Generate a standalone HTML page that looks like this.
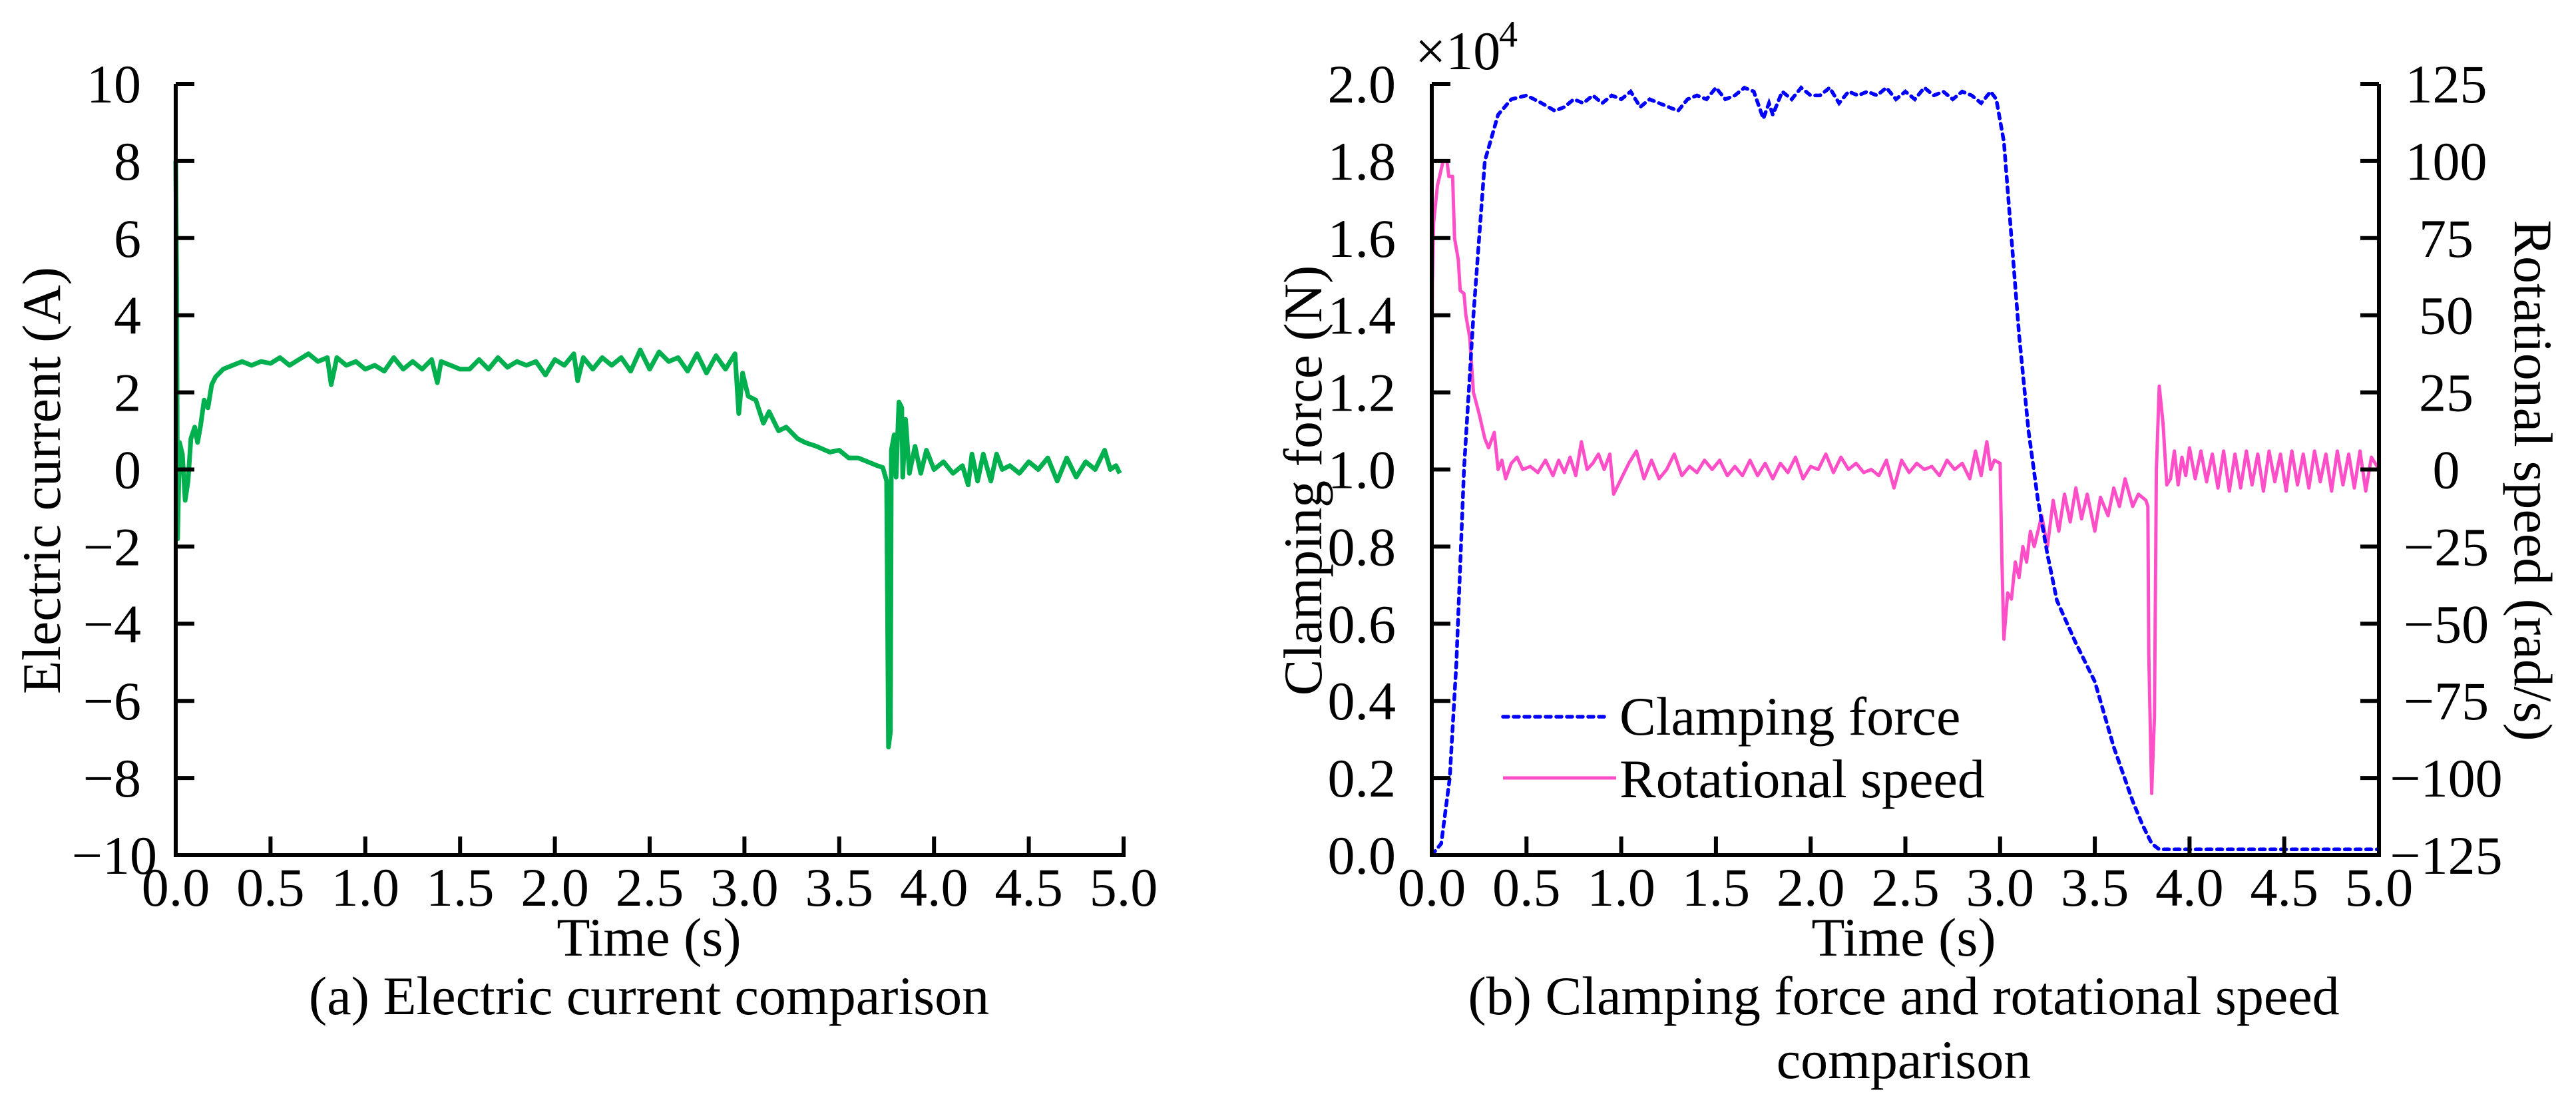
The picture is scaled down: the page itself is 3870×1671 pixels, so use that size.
<!DOCTYPE html>
<html><head><meta charset="utf-8"><style>
html,body{margin:0;padding:0;background:#fff;}
svg{display:block;font-family:"Liberation Serif",serif;}
</style></head><body>
<svg id="fig" width="3870" height="1671" viewBox="0 0 3870 1671" xmlns="http://www.w3.org/2000/svg">
<rect width="3870" height="1671" fill="#fff"/>
<g id="chartA"></g>
<g id="chartB"></g>
</svg>
<script>
const xTicks = [0,0.5,1,1.5,2,2.5,3,3.5,4,4.5,5];
const xTickLabels = ["0.0","0.5","1.0","1.5","2.0","2.5","3.0","3.5","4.0","4.5","5.0"];
const curTicks = [-10,-8,-6,-4,-2,0,2,4,6,8,10];
const curTickLabels = ["\u221210","\u22128","\u22126","\u22124","\u22122","0","2","4","6","8","10"];
const forceTicks = [0,0.2,0.4,0.6,0.8,1.0,1.2,1.4,1.6,1.8,2.0];
const forceTickLabels = ["0.0","0.2","0.4","0.6","0.8","1.0","1.2","1.4","1.6","1.8","2.0"];
const speedTicks = [-125,-100,-75,-50,-25,0,25,50,75,100,125];
const speedTickLabels = ["\u2212125","\u2212100","\u221275","\u221250","\u221225","0","25","50","75","100","125"];

const curT = [0,0.005,0.01,0.02,0.035,0.05,0.065,0.08,0.1,0.115,0.13,0.15,0.17,0.19,0.21,0.25,
0.30,0.35,0.40,0.45,0.50,0.55,0.60,0.65,0.70,0.75,0.80,0.82,0.85,0.90,0.95,1.00,1.05,1.10,1.15,1.20,1.25,1.30,1.35,1.38,1.40,1.45,1.50,1.55,1.60,1.65,1.70,1.75,1.80,1.85,1.90,1.95,2.00,2.05,2.10,2.12,2.15,2.20,2.25,2.30,2.35,2.40,2.45,2.50,2.55,2.60,2.65,2.70,2.75,2.80,2.85,2.90,2.95,
2.97,2.99,3.02,3.06,3.10,3.13,3.18,3.22,3.28,3.32,3.38,3.45,3.5,3.55,3.6,3.65,3.7,3.73,3.75,3.76,3.77,3.775,3.79,3.8,3.815,3.83,3.835,3.85,3.87,3.9,3.93,3.96,4.0,4.05,4.1,4.15,4.18,4.2,4.23,4.26,4.3,4.33,4.36,4.4,4.45,4.5,4.55,4.6,4.65,4.7,4.75,4.8,4.85,4.9,4.93,4.96,4.98];
const curV = [8.0,5,-1.8,0.7,0.4,-0.8,-0.3,0.8,1.1,0.7,1.1,1.8,1.6,2.2,2.4,2.6,
2.7,2.8,2.7,2.8,2.75,2.9,2.7,2.85,3.0,2.8,2.9,2.2,2.9,2.7,2.8,2.6,2.7,2.55,2.9,2.6,2.8,2.6,2.85,2.25,2.8,2.7,2.6,2.6,2.85,2.6,2.9,2.65,2.8,2.7,2.8,2.45,2.85,2.7,3.0,2.3,2.9,2.6,2.9,2.7,2.9,2.55,3.1,2.6,3.05,2.8,2.9,2.55,3.0,2.5,2.95,2.6,3.0,
1.45,2.5,1.9,1.8,1.2,1.5,1.0,1.1,0.8,0.7,0.6,0.45,0.5,0.3,0.3,0.2,0.1,0.05,-0.3,-7.2,-6.8,0.5,0.9,-0.2,1.75,1.6,-0.2,1.3,-0.1,0.6,-0.1,0.5,0.0,0.2,-0.1,0.1,-0.4,0.4,-0.3,0.4,-0.3,0.4,0.0,0.1,-0.1,0.2,0.0,0.3,-0.3,0.3,-0.2,0.2,0.0,0.5,0.0,0.1,-0.1];

const forceT = [0,0.05,0.095,0.13,0.17,0.22,0.28,0.35,0.42,0.5,0.58,0.65,0.7,0.75,0.8,0.85,0.9,0.95,1.0,1.05,1.1,1.15,1.2,1.25,1.3,1.35,1.4,1.45,1.5,1.55,1.6,1.65,1.7,1.75,1.78,1.8,1.85,1.9,1.95,2.0,2.05,2.1,2.15,2.2,2.25,2.3,2.35,2.4,2.45,2.5,2.55,2.6,2.65,2.7,2.75,2.8,2.85,2.9,2.95,2.98,3.02,3.06,3.1,3.15,3.2,3.25,3.3,3.4,3.5,3.6,3.7,3.75,3.8,3.84,5.0];
const forceV = [0,0.03,0.2,0.5,1.0,1.4,1.8,1.92,1.96,1.97,1.95,1.93,1.94,1.96,1.95,1.97,1.95,1.97,1.96,1.98,1.94,1.96,1.95,1.94,1.93,1.96,1.97,1.96,1.99,1.96,1.97,1.99,1.98,1.91,1.95,1.92,1.98,1.96,1.99,1.97,1.97,1.99,1.95,1.98,1.97,1.98,1.97,1.99,1.96,1.98,1.96,1.99,1.97,1.98,1.96,1.98,1.97,1.95,1.98,1.96,1.85,1.6,1.35,1.1,0.92,0.78,0.66,0.55,0.45,0.28,0.14,0.08,0.03,0.015,0.015];

const speedT = [0,0.003,0.01,0.03,0.06,0.08,0.09,0.11,0.12,0.14,0.15,0.17,0.18,0.2,0.22,0.25,0.28,0.3,0.33,0.35,0.37,0.39,0.42,0.45,0.48,0.52,0.56,0.6,0.64,0.67,0.7,0.73,0.76,0.79,0.82,0.85,0.88,0.91,0.94,0.96,1.0,1.04,1.08,1.12,1.16,1.2,1.24,1.28,1.32,1.36,1.4,1.44,1.48,1.52,1.56,1.6,1.64,1.68,1.72,1.76,1.8,1.84,1.88,1.92,1.96,2.0,2.04,2.08,2.12,2.16,2.2,2.24,2.28,2.32,2.36,2.4,2.44,2.48,2.52,2.56,2.6,2.64,2.68,2.72,2.76,2.8,2.84,2.87,2.9,2.93,2.95,2.97,3.0,3.01,3.02,3.04,3.06,3.08,3.1,3.12,3.14,3.16,3.18,3.22,3.25,3.28,3.31,3.34,3.37,3.4,3.43,3.46,3.5,3.53,3.57,3.6,3.63,3.66,3.7,3.73,3.77,3.78,3.785,3.8,3.815,3.825,3.84,3.86,3.88,3.9,3.92,3.94,3.96,3.98,4.0,4.03,4.06,4.09,4.12,4.15,4.18,4.21,4.24,4.27,4.3,4.33,4.36,4.39,4.42,4.45,4.48,4.51,4.54,4.57,4.6,4.63,4.66,4.69,4.72,4.75,4.78,4.81,4.84,4.87,4.9,4.93,4.96,5.0];
const speedV = [0,60,80,92,100,100,95,95,75,68,58,57,50,43,25,18,10,7,12,0,3,-3,2,4,0,1,-1,3,-2,3,-1,4,-2,9,0,2,5,0,5,-8,-3,2,6,-3,3,-3,0,5,-2,1,-1,3,0,3,-2,1,-2,3,-2,2,-3,2,-1,4,-3,1,0,5,-1,4,0,2,-1,0,-2,3,-6,3,-1,2,0,1,-2,3,0,2,-3,6,-2,9,0,3,2,-30,-55,-40,-42,-30,-35,-25,-30,-20,-25,-15,-25,-10,-20,-8,-17,-6,-16,-8,-20,-9,-15,-6,-12,-3,-12,-8,-10,-12,-60,-105,-80,0,27,15,-5,-3,6,-5,4,-2,7,-3,6,-4,5,-6,6,-7,5,-6,6,-5,5,-7,6,-4,5,-7,6,-5,5,-6,6,-4,5,-7,6,-5,5,-6,6,-7,4,0];

const NS = "http://www.w3.org/2000/svg";
function mk(parent, tag, attrs, text){
  const el = document.createElementNS(NS, tag);
  for (const k in attrs) el.setAttribute(k, attrs[k]);
  if (text !== undefined) el.textContent = text;
  parent.appendChild(el);
  return el;
}
const TOP = 126, BOT = 1285, FS = 82;

// ---------- Chart A ----------
const A = document.getElementById('chartA');
const ax0 = 264, ax1 = 1688;
const axA = t => ax0 + (t / 5) * (ax1 - ax0);
const ayA = v => BOT - (v + 10) / 20 * (BOT - TOP);

let p = mk(A, 'path', {d: curT.map((t,i)=>(i?'L':'M')+axA(t).toFixed(1)+','+ayA(curV[i]).toFixed(1)).join(''), fill:'none', stroke:'#00b04f', 'stroke-width':7, 'stroke-linejoin':'round'});



let ln = mk(A, 'path', {d:`M${ax0},${TOP} L${ax0},${BOT} L${ax1},${BOT} L${ax1},${BOT-28}`, fill:'none', stroke:'#000', 'stroke-width':6});


curTicks.forEach((v,i)=>{
  const y = ayA(v);
  const tk = mk(A, 'line', {x1:ax0, x2:ax0+28, y1:y, y2:y, stroke:'#000', 'stroke-width':6});
  
  
  const lb = mk(A, 'text', {x: v===-10?236:212, y:y+28, 'text-anchor':'end', 'font-size':FS}, curTickLabels[i]);
  
  
});
xTicks.forEach((t,i)=>{
  const x = axA(t);
  if (i>0 && i<10) {
    const tk = mk(A, 'line', {x1:x, x2:x, y1:BOT, y2:BOT-28, stroke:'#000', 'stroke-width':6});
    
    
  }
  const lb = mk(A, 'text', {x:x, y:1361, 'text-anchor':'middle', 'font-size':FS}, xTickLabels[i]);
  
  
});
let t1 = mk(A, 'text', {x:975, y:1436, 'text-anchor':'middle', 'font-size':FS}, 'Time (s)');


let t2 = mk(A, 'text', {x:0, y:0, 'text-anchor':'middle', 'font-size':FS, transform:'translate(90,722) rotate(-90)'}, 'Electric current (A)');


let t3 = mk(A, 'text', {x:975, y:1524, 'text-anchor':'middle', 'font-size':FS}, '(a) Electric current comparison');



// ---------- Chart B ----------
const B = document.getElementById('chartB');
const bx0 = 2151, bx1 = 3574;
const axB = t => bx0 + (t / 5) * (bx1 - bx0);
const ayF = v => BOT - v / 2 * (BOT - TOP);
const ayS = v => BOT - (v + 125) / 250 * (BOT - TOP);

let ps = mk(B, 'path', {d: speedT.map((t,i)=>(i?'L':'M')+axB(t).toFixed(1)+','+ayS(speedV[i]).toFixed(1)).join(''), fill:'none', stroke:'#ff4fc8', 'stroke-width':5, 'stroke-linejoin':'round'});


let pf = mk(B, 'path', {d: forceT.map((t,i)=>(i?'L':'M')+axB(t).toFixed(1)+','+ayF(forceV[i]).toFixed(1)).join(''), fill:'none', stroke:'#0000ff', 'stroke-width':5.5, 'stroke-dasharray':'8 8', 'stroke-linecap':'round'});



let lnb = mk(B, 'path', {d:`M${bx0},${TOP} L${bx0},${BOT} L${bx1},${BOT} L${bx1},${TOP}`, fill:'none', stroke:'#000', 'stroke-width':6});


forceTicks.forEach((v,i)=>{
  const y = ayF(v);
  const tk = mk(B, 'line', {x1:bx0, x2:bx0+28, y1:y, y2:y, stroke:'#000', 'stroke-width':6});
  
  
  const lb = mk(B, 'text', {x:2097, y:y+28, 'text-anchor':'end', 'font-size':FS}, forceTickLabels[i]);
  
  
});
speedTicks.forEach((v,i)=>{
  const y = ayS(v);
  const tk = mk(B, 'line', {x1:bx1, x2:bx1-28, y1:y, y2:y, stroke:'#000', 'stroke-width':6});
  
  
  const lb = mk(B, 'text', {x:3675, y:y+28, 'text-anchor':'middle', 'font-size':FS}, speedTickLabels[i]);
  
  
});
xTicks.forEach((t,i)=>{
  const x = axB(t);
  if (i>0 && i<10) {
    const tk = mk(B, 'line', {x1:x, x2:x, y1:BOT, y2:BOT-28, stroke:'#000', 'stroke-width':6});
    
    
  }
  const lb = mk(B, 'text', {x:x, y:1361, 'text-anchor':'middle', 'font-size':FS}, xTickLabels[i]);
  
  
});
let mult = mk(B, 'text', {x:2126, y:104, 'font-size':FS}, '\u00d710');


let sup = mk(B, 'text', {x:2252, y:70, 'font-size':56}, '4');


let bt1 = mk(B, 'text', {x:2860, y:1436, 'text-anchor':'middle', 'font-size':FS}, 'Time (s)');


let bt2 = mk(B, 'text', {x:0, y:0, 'text-anchor':'middle', 'font-size':FS, transform:'translate(1985,722) rotate(-90)'}, 'Clamping force (N)');


let bt3 = mk(B, 'text', {x:0, y:0, 'text-anchor':'middle', 'font-size':FS, transform:'translate(3778,722) rotate(90)'}, 'Rotational speed (rad/s)');


let cap1 = mk(B, 'text', {x:2860, y:1524, 'text-anchor':'middle', 'font-size':FS}, '(b) Clamping force and rotational speed');


let cap2 = mk(B, 'text', {x:2860, y:1620, 'text-anchor':'middle', 'font-size':FS}, 'comparison');



// legend
const lg = mk(B, 'g', {});


let l1 = mk(lg, 'line', {x1:2258, x2:2416, y1:1077, y2:1077, stroke:'#0000ff', 'stroke-width':5.5, 'stroke-dasharray':'8 8', 'stroke-linecap':'round'});


let lt1 = mk(lg, 'text', {x:2433, y:1104, 'font-size':FS}, 'Clamping force');


let l2 = mk(lg, 'line', {x1:2258, x2:2428, y1:1169, y2:1169, stroke:'#ff4fc8', 'stroke-width':5});


let lt2 = mk(lg, 'text', {x:2433, y:1198, 'font-size':FS}, 'Rotational speed');


</script>
</body></html>
